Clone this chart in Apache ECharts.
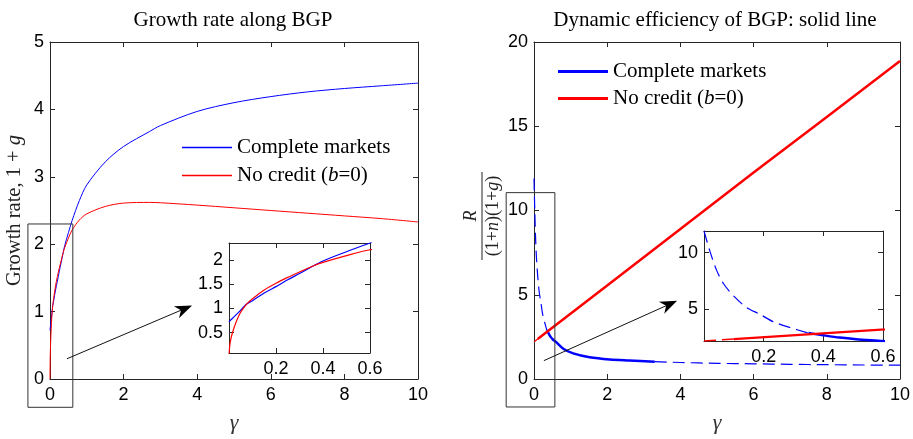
<!DOCTYPE html>
<html>
<head>
<meta charset="utf-8">
<script src="https://cdn.jsdelivr.net/npm/echarts@6.0.0/dist/echarts.min.js"></script>
<style>
  html, body { margin: 0; padding: 0; background: #fff; }
  #main { width: 913px; height: 439px; }
</style>
</head>
<body>
<div id="main"></div>
<script>
// 左图: growth rate along BGP (same arrays feed the main plot and the zoomed inset)
const gammaL = [0, 0.005, 0.02, 0.047, 0.075, 0.1, 0.15, 0.2, 0.25, 0.3, 0.36, 0.4, 0.5, 0.6, 0.8, 1, 1.5, 2, 2.7, 3, 4, 5, 6, 7, 8, 9, 10]
const completeL = [0.72, 0.75, 0.82, 0.95, 1.09, 1.16, 1.32, 1.45, 1.59, 1.72, 1.88, 1.98, 2.17, 2.35, 2.65, 2.88, 3.22, 3.45, 3.67, 3.76, 3.97, 4.1, 4.19, 4.26, 4.31, 4.35, 4.39]
const noCreditL = [0, 0.3, 0.58, 0.9, 1.09, 1.2, 1.38, 1.52, 1.64, 1.75, 1.88, 1.95, 2.09, 2.21, 2.36, 2.45, 2.56, 2.61, 2.62, 2.615, 2.58, 2.54, 2.5, 2.46, 2.42, 2.38, 2.33]

// 右图: R/((1+n)(1+g)), split into solid / dashed pieces
const gammaBlueHi = [0, 0.02, 0.042, 0.065, 0.1, 0.143, 0.187, 0.232, 0.288, 0.35]
const completeHi = [11.9, 10.1, 8.45, 7.27, 6.15, 5.15, 4.56, 3.9, 3.39, 2.9]
const gammaBlueMid = [0.35, 0.4, 0.455, 0.51, 0.6, 0.8, 1.07, 1.52, 2.07, 2.6, 3.3]
const completeMid = [2.9, 2.7, 2.5, 2.36, 2.2, 1.8, 1.52, 1.29, 1.16, 1.1, 1.03]
const gammaBlueLo = [3.3, 4, 5, 6, 7, 8, 9, 10]
const completeLo = [1.03, 0.98, 0.93, 0.9, 0.87, 0.85, 0.83, 0.82]
const gammaRedDash = [0, 0.1]
const noCreditDash = [2.2, 2.37]
const gammaRedSolid = [0.1, 2, 4, 6, 8, 10]
const noCreditSolid = [2.37, 5.55, 8.9, 12.25, 15.55, 18.87]

const serif = "'Liberation Serif', 'DejaVu Serif', serif"
const sans = "'Liberation Sans', Arial, sans-serif"
const axisColor = '#262626'
const blue = '#0000ff'
const red = '#ff0000'

function pairs (xs, ys) {
  return xs.map((x, i) => [x, ys[i]])
}

// bottom axis with labels + top axis with ticks only (matlab box)
function xPair (grid, min, max, interval, main) {
  const base = {
    gridIndex: grid,
    type: 'value',
    min: min,
    max: max,
    interval: interval,
    axisLine: { onZero: false, lineStyle: { color: axisColor } },
    axisTick: { inside: true, length: 5, lineStyle: { color: axisColor } },
    splitLine: { show: false }
  }
  return [
    Object.assign({}, base, {
      position: 'bottom',
      axisLabel: { fontFamily: sans, fontSize: 18, color: '#000', margin: 7, showMinLabel: main },
      name: main ? 'γ' : '',
      nameLocation: 'middle',
      nameGap: 33,
      nameTextStyle: { fontFamily: serif, fontStyle: 'italic', fontSize: 22, color: '#333' }
    }),
    Object.assign({}, base, { position: 'top', axisLabel: { show: false } })
  ]
}

function yPair (grid, min, max, interval, ticks, name) {
  const tick = { inside: true, length: 5, lineStyle: { color: axisColor } }
  const label = { fontFamily: sans, fontSize: 18, color: '#000', margin: 6 }
  if (ticks) {
    tick.customValues = ticks
    label.customValues = ticks
  }
  const base = {
    gridIndex: grid,
    type: 'value',
    min: min,
    max: max,
    axisLine: { onZero: false, lineStyle: { color: axisColor } },
    splitLine: { show: false }
  }
  if (!ticks) base.interval = interval
  return [
    Object.assign({}, base, {
      position: 'left',
      axisTick: tick,
      axisLabel: label,
      name: name || '',
      nameLocation: 'middle',
      nameGap: 25,
      nameTextStyle: {
        fontFamily: serif,
        fontSize: 20.5,
        color: '#222',
        rich: { i: { fontFamily: serif, fontStyle: 'italic', fontSize: 20.5, color: '#222' } }
      }
    }),
    Object.assign({}, base, { position: 'right', axisTick: tick, axisLabel: { show: false } })
  ]
}

function line (name, xs, ys, axis, color, width, dashed, smooth) {
  return {
    name: name,
    type: 'line',
    xAxisIndex: axis,
    yAxisIndex: axis,
    data: pairs(xs, ys),
    symbol: 'none',
    showSymbol: false,
    smooth: smooth === undefined ? 0.3 : smooth,
    lineStyle: { color: color, width: width, type: dashed ? [12, 6] : 'solid' },
    itemStyle: { color: color },
    animation: false
  }
}

const CM = 'Complete markets'
const NC = 'No credit (b=0)'

const legendText = {
  fontFamily: serif,
  fontSize: 21,
  color: '#000',
  rich: { i: { fontFamily: serif, fontStyle: 'italic', fontSize: 21, color: '#000' } }
}
function legendFmt (name) {
  return name === NC ? 'No credit ({i|b}=0)' : name
}
function legendData () {
  return [
    { name: CM, itemStyle: { color: blue, borderWidth: 0 } },
    { name: NC, itemStyle: { color: red, borderWidth: 0 } }
  ]
}

const myChart = echarts.init(document.getElementById('main'))

const option = {
  animation: false,
  grid: [
    { left: 50, top: 42, width: 368, height: 349 },
    { left: 229, top: 243, width: 141, height: 110 },
    { left: 534, top: 42, width: 368, height: 349 },
    { left: 704, top: 231, width: 179, height: 110 }
  ],
  xAxis: [].concat(
    xPair(0, 0, 10, 2, true),
    xPair(1, 0, 0.6, 0.2, false),
    xPair(2, 0, 10, 2, true),
    xPair(3, 0, 0.6, 0.2, false)
  ),
  yAxis: [].concat(
    yPair(0, 0, 5, 1, null, 'Growth rate, 1 + {i|g}'),
    yPair(1, 0.08, 2.35, null, [0.5, 1, 1.5, 2]),
    yPair(2, 0, 20, 5, null),
    yPair(3, 2.2, 11.9, null, [5, 10])
  ),
  legend: [
    {
      left: 182, top: 137, orient: 'vertical', padding: 0,
      icon: 'rect', itemWidth: 50, itemHeight: 1.5, itemGap: 7, selectedMode: false,
      itemStyle: { borderWidth: 0 },
      data: legendData(),
      formatter: legendFmt,
      textStyle: legendText
    },
    {
      left: 558, top: 61, orient: 'vertical', padding: 0,
      icon: 'rect', itemWidth: 50, itemHeight: 3, itemGap: 6, selectedMode: false,
      itemStyle: { borderWidth: 0 },
      data: legendData(),
      formatter: legendFmt,
      textStyle: legendText
    }
  ],
  series: [
    line(CM, gammaL, completeL, 0, blue, 1, false),
    line(NC, gammaL, noCreditL, 0, red, 1, false),
    line(CM, gammaL, completeL, 2, blue, 1.2, false),
    line(NC, gammaL, noCreditL, 2, red, 1.2, false),

    line(CM, gammaBlueMid, completeMid, 4, blue, 2.5, false),
    line(CM, gammaBlueHi, completeHi, 4, blue, 1.2, true),
    line(CM, gammaBlueLo, completeLo, 4, blue, 1.2, true),
    line(NC, gammaRedSolid, noCreditSolid, 4, red, 2.5, false, false),
    line(NC, gammaRedDash, noCreditDash, 4, red, 1.2, true, false),

    line(CM, gammaBlueHi, completeHi, 6, blue, 1.2, true),
    line(CM, gammaBlueMid, completeMid, 6, blue, 2.5, false),
    line(NC, gammaRedDash, noCreditDash, 6, red, 1.5, true, false),
    line(NC, gammaRedSolid, noCreditSolid, 6, red, 2.2, false, false)
  ]
}
myChart.setOption(option)

// 注释: 标题, 分式纵轴名, 矩形框和箭头
function toPx (grid, pt) {
  return myChart.convertToPixel({ gridIndex: grid }, pt)
}
function rectFrom (grid, a, b) {
  const p = toPx(grid, a)
  const q = toPx(grid, b)
  return {
    type: 'rect',
    shape: { x: p[0], y: p[1], width: q[0] - p[0], height: q[1] - p[1] },
    style: { fill: 'none', stroke: '#333', lineWidth: 1 },
    z: 10
  }
}
function arrow (grid, a, b) {
  const p0 = toPx(grid, a)
  const p1 = toPx(grid, b)
  const dx = p1[0] - p0[0]
  const dy = p1[1] - p0[1]
  const len = Math.hypot(dx, dy)
  const ux = dx / len
  const uy = dy / len
  const hl = 17
  const hw = 6.5
  const bx = p1[0] - ux * hl
  const by = p1[1] - uy * hl
  return [
    {
      type: 'line',
      shape: { x1: p0[0], y1: p0[1], x2: bx + ux * 5, y2: by + uy * 5 },
      style: { stroke: '#111', lineWidth: 1 },
      z: 10
    },
    {
      type: 'polygon',
      shape: {
        points: [
          p1,
          [bx - uy * hw, by + ux * hw],
          [bx + ux * 5, by + uy * 5],
          [bx + uy * hw, by - ux * hw]
        ]
      },
      style: { fill: '#000' },
      z: 10
    }
  ]
}
function title (text, x) {
  return {
    type: 'text',
    x: x,
    y: 20,
    style: { text: text, font: '21px ' + serif, fill: '#000', textAlign: 'center', textVerticalAlign: 'middle' }
  }
}

const fracFont = serif
myChart.setOption({
  graphic: [
    title('Growth rate along BGP', 233),
    title('Dynamic efficiency of BGP: solid line', 715),
    {
      type: 'group',
      x: 482,
      y: 216,
      rotation: Math.PI / 2,
      children: [
        {
          type: 'text',
          x: 0,
          y: -11,
          style: { text: 'R', font: 'italic 18px ' + fracFont, fill: '#222', textAlign: 'center', textVerticalAlign: 'middle' }
        },
        {
          type: 'line',
          shape: { x1: -44, y1: 0, x2: 44, y2: 0 },
          style: { stroke: '#222', lineWidth: 1 }
        },
        {
          type: 'text',
          x: 0,
          y: 11,
          style: {
            text: '(1+{i|n})(1+{i|g})',
            font: '18px ' + fracFont,
            fill: '#222',
            textAlign: 'center',
            textVerticalAlign: 'middle',
            rich: { i: { fontStyle: 'italic', fontFamily: fracFont, fontSize: 18 } }
          }
        }
      ]
    },
    rectFrom(0, [-0.6, 2.3], [0.62, -0.42]),
    rectFrom(2, [-0.76, 11.06], [0.57, -1.66])
  ].concat(
    arrow(0, [0.46, 0.3], [3.86, 1.09]),
    arrow(2, [0.27, 1.09], [3.91, 4.64])
  )
})
</script>
</body>
</html>
